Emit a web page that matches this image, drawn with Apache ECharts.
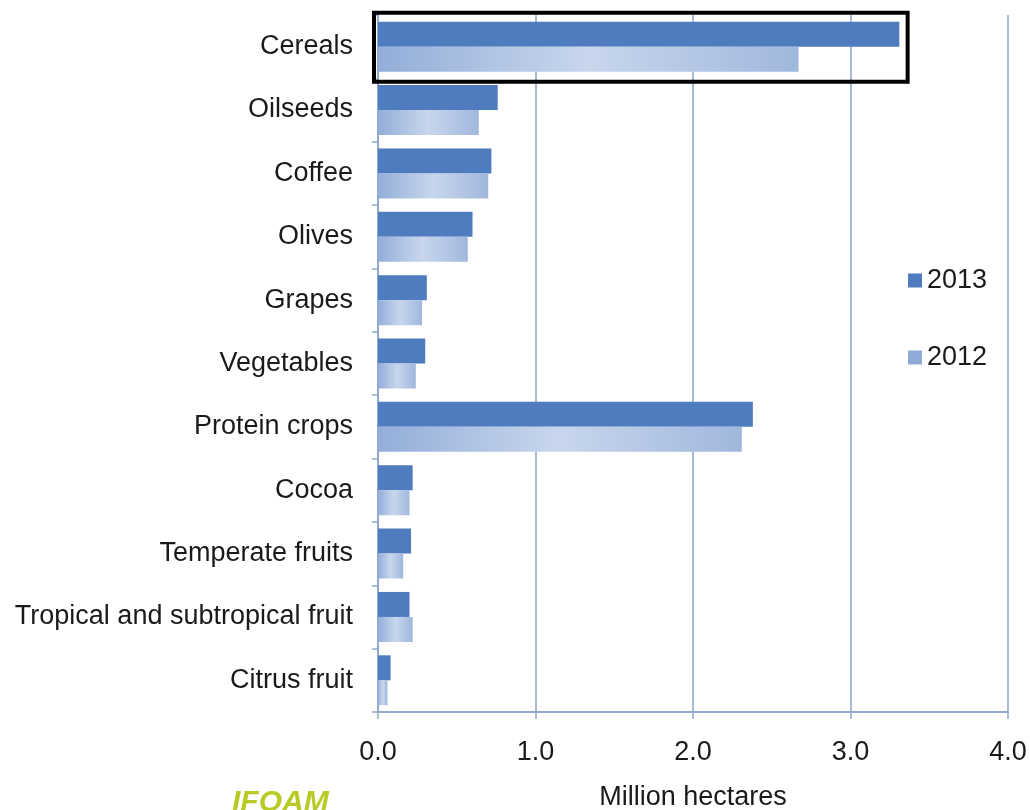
<!DOCTYPE html>
<html><head><meta charset="utf-8">
<script src="https://cdn.jsdelivr.net/npm/echarts@6/dist/echarts.min.js"></script>
<style>html,body{margin:0;padding:0;background:#fff}#c{width:1030px;height:810px}</style>
</head><body><div id="c"></div>
<script>
const categories = ['Cereals','Oilseeds','Coffee','Olives','Grapes','Vegetables','Protein crops','Cocoa','Temperate fruits','Tropical and subtropical fruit','Citrus fruit'];
const values2013 = [3.31,0.76,0.72,0.60,0.31,0.30,2.38,0.22,0.21,0.20,0.08];
const values2012 = [2.67,0.64,0.70,0.57,0.28,0.24,2.31,0.20,0.16,0.22,0.06];
const xTicks = [0,1,2,3,4];
const FONT = '"Liberation Sans",Arial,sans-serif';
const chart = echarts.init(document.getElementById('c'));
const grad2012 = new echarts.graphic.LinearGradient(0,0,1,0,[
  {offset:0,color:'#93aed9'},{offset:0.5,color:'#c8d6ed'},{offset:1,color:'#a0b7dd'}]);
chart.setOption({
  animation:false,
  textStyle:{fontFamily:FONT},
  grid:{left:378,right:22,top:15,bottom:98,containLabel:false,outerBoundsMode:'none'},
  legend:{orient:'vertical',left:903,top:262,itemGap:50,itemWidth:14,itemHeight:14,
    icon:'rect',
    textStyle:{fontFamily:FONT,fontSize:27,color:'#1a1a1a'},
    data:[{name:'2013',itemStyle:{color:'#4f7bbf'}},{name:'2012',itemStyle:{color:'#8eaad7'}}]},
  xAxis:{type:'value',min:xTicks[0],max:xTicks[xTicks.length-1],interval:1,
    name:'Million hectares',nameLocation:'middle',nameGap:72,
    nameTextStyle:{fontFamily:FONT,fontSize:27,color:'#1a1a1a'},
    axisLine:{show:true,lineStyle:{color:'#93a9c9',width:2}},
    axisTick:{show:true,length:7,lineStyle:{color:'#93a9c9',width:1.5}},
    axisLabel:{fontFamily:FONT,fontSize:27,color:'#1a1a1a',margin:27,formatter:v=>v.toFixed(1)},
    splitLine:{show:true,lineStyle:{color:'#8ea4c6',width:1.5}}},
  yAxis:{type:'category',data:categories,inverse:true,
    axisLine:{show:true,lineStyle:{color:'#93a9c9',width:2}},
    axisTick:{show:true,length:6,lineStyle:{color:'#93a9c9',width:1.5}},
    axisLabel:{fontFamily:FONT,fontSize:27,color:'#1a1a1a',margin:25}},
  series:[
    {name:'2013',type:'bar',data:values2013,barWidth:25,barGap:'0%',itemStyle:{color:'#4f7bbf'}},
    {name:'2012',type:'bar',data:values2012,barWidth:25,barGap:'0%',itemStyle:{color:grad2012}}
  ]
});
// highlight box around Cereals
const x0 = chart.convertToPixel({xAxisIndex:0},0);
const x1 = chart.convertToPixel({xAxisIndex:0},3.35);
const yc = chart.convertToPixel({yAxisIndex:0},categories[0]);
chart.setOption({graphic:[
  {type:'rect',shape:{x:x0-4,y:yc-34,width:x1-x0+6,height:69},
   style:{fill:'none',stroke:'#000',lineWidth:4},z:100},
  {type:'text',left:232,top:788,style:{text:'IFOAM',fill:'#b9c925',font:'italic bold 30px "Liberation Sans",Arial,sans-serif'},z:100}
]});
</script></body></html>
